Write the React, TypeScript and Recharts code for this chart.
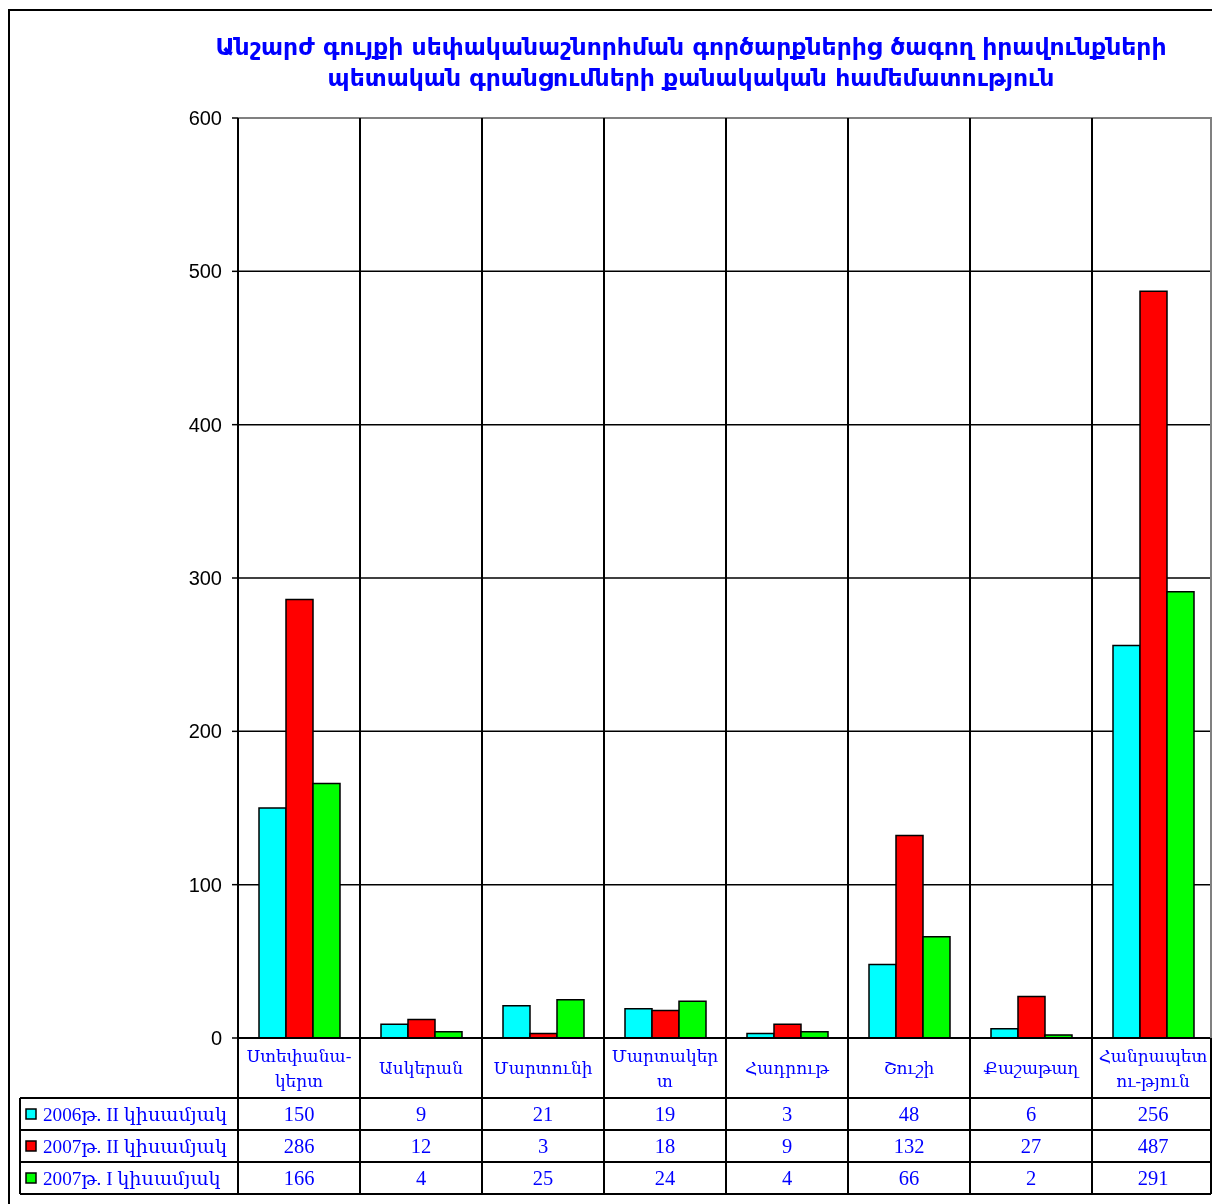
import React from "react";
import { BarChart, Bar, XAxis, YAxis, CartesianGrid, ReferenceLine } from "recharts";

const titleLines = [
  "Անշարժ գույքի սեփականաշնորհման գործարքներից ծագող իրավունքների",
  "պետական գրանցումների քանակական համեմատություն",
];
const categories = ["Ստեփանակերտ", "Ասկերան", "Մարտունի", "Մարտակերտ", "Հադրութ", "Շուշի", "Քաշաթաղ", "Հանրապետություն"];
const categoryLabels = [["Ստեփանա-", "կերտ"], ["Ասկերան"], ["Մարտունի"], ["Մարտակեր", "տ"], ["Հադրութ"], ["Շուշի"], ["Քաշաթաղ"], ["Հանրապետ", "ու-թյուն"]];
const seriesNames = ["2006թ. II կիսամյակ", "2007թ. II կիսամյակ", "2007թ. I կիսամյակ"];
const seriesKeys = ["s2006II", "s2007II", "s2007I"];
const seriesColors = ["#00ffff", "#ff0000", "#00ff00"];
const s2006II = [150, 9, 21, 19, 3, 48, 6, 256];
const s2007II = [286, 12, 3, 18, 9, 132, 27, 487];
const s2007I = [166, 4, 25, 24, 4, 66, 2, 291];
const yTicks = [0, 100, 200, 300, 400, 500, 600];

const seriesValues = [s2006II, s2007II, s2007I];
const data = categories.map((c, i) => ({ name: c, s2006II: s2006II[i], s2007II: s2007II[i], s2007I: s2007I[i] }));

const W = 1204;
const H = 1196;
const YAXIS_W = 230;
const XAXIS_H = 166;
const M = { top: 110, right: -2, bottom: 0, left: 0 };
const PLOT_TOP = M.top;
const PLOT_BOTTOM = H - M.bottom - XAXIS_H;
const BAND = (W - YAXIS_W - M.left - M.right) / categories.length;
const ROW_TOP = PLOT_BOTTOM + 60;
const ROW_H = 32;
const TABLE_BOTTOM = ROW_TOP + 3 * ROW_H;
const TABLE_LEFT = 12;
const RIGHT_EDGE = W - 1;
const BLUE = "#0000ff";
const SERIF = "'Liberation Serif', 'DejaVu Serif', serif";

const TableTick = (props: any) => {
  const { x, payload, index } = props;
  const x0 = x - BAND / 2;
  const lines = categoryLabels[index] || [payload.value];
  const isLast = index === categories.length - 1;
  return (
    <g>
      <line x1={x0} x2={x0} y1={PLOT_TOP} y2={TABLE_BOTTOM} stroke="#000" strokeWidth={2} />
      {isLast && <line x1={RIGHT_EDGE} x2={RIGHT_EDGE} y1={PLOT_TOP} y2={PLOT_BOTTOM} stroke="#808080" strokeWidth={2} />}
      {isLast && <line x1={RIGHT_EDGE} x2={RIGHT_EDGE} y1={PLOT_BOTTOM} y2={TABLE_BOTTOM} stroke="#000" strokeWidth={2} />}
      {lines.map((l: string, k: number) => (
        <text key={k} x={x} y={lines.length === 1 ? PLOT_BOTTOM + 36 : PLOT_BOTTOM + 24 + k * 25}
          textAnchor="middle" fontFamily={SERIF} fontSize={17} fill={BLUE}>{l}</text>
      ))}
      {seriesValues.map((vals, r) => (
        <text key={"v" + r} x={x} y={ROW_TOP + r * ROW_H + 23} textAnchor="middle" fontFamily={SERIF} fontSize={20.5} fill={BLUE}>
          {vals[index]}
        </text>
      ))}
      {index === 0 && (
        <g>
          {[0, 1, 2, 3].map((k) => (
            <line key={"h" + k} x1={TABLE_LEFT} x2={RIGHT_EDGE} y1={ROW_TOP + k * ROW_H} y2={ROW_TOP + k * ROW_H} stroke="#000" strokeWidth={2} />
          ))}
          <line x1={TABLE_LEFT} x2={TABLE_LEFT} y1={ROW_TOP} y2={TABLE_BOTTOM} stroke="#000" strokeWidth={2} />
          {seriesNames.map((n, r) => (
            <g key={"l" + r}>
              <rect x={TABLE_LEFT + 6} y={ROW_TOP + r * ROW_H + 11} width={10} height={10} fill={seriesColors[r]} stroke="#000" strokeWidth={1.5} />
              <text x={TABLE_LEFT + 23} y={ROW_TOP + r * ROW_H + 23} fontFamily={SERIF} fontSize={19.2} fill={BLUE}>{n}</text>
            </g>
          ))}
        </g>
      )}
    </g>
  );
};

export default function App() {
  return (
    <div style={{ position: "fixed", left: 8, top: 8, width: W, height: H }}>
      <div style={{ position: "absolute", left: 0, top: 1, width: W + 10, height: H + 10, boxSizing: "border-box", borderLeft: "2px solid #000", borderTop: "2px solid #000" }} />
      <div style={{ position: "absolute", left: 683 - 600, top: 24, width: 1200, textAlign: "center", color: BLUE, fontFamily: "'DejaVu Sans', sans-serif", fontWeight: "bold", fontSize: 23.5, lineHeight: "31px", whiteSpace: "nowrap" }}>
        {titleLines.map((t, i) => (<div key={i}>{t}</div>))}
      </div>
      <div style={{ position: "absolute", left: 0, top: 0 }}>
        <BarChart width={W} height={H} data={data} margin={M} barGap={0} barSize={27}>
          <CartesianGrid vertical={false} stroke="#000" strokeWidth={1.5} />
          <ReferenceLine y={600} stroke="#808080" strokeWidth={2} />
          <YAxis type="number" domain={[0, 600]} ticks={yTicks} width={YAXIS_W} tickSize={6} tickMargin={10}
            axisLine={{ stroke: "#000", strokeWidth: 2 }} tickLine={{ stroke: "#000", strokeWidth: 1.5 }}
            tick={{ fill: "#000", fontSize: 20, fontFamily: "'Liberation Sans', Arial, sans-serif" }} interval={0} />
          <XAxis dataKey="name" type="category" interval={0} height={XAXIS_H} tickLine={false}
            axisLine={{ stroke: "#000", strokeWidth: 2 }} tick={<TableTick />} />
          {seriesKeys.map((k, i) => (
            <Bar key={k} dataKey={k} name={seriesNames[i]} fill={seriesColors[i]} stroke="#000" strokeWidth={1.5} isAnimationActive={false} />
          ))}
        </BarChart>
      </div>
    </div>
  );
}
